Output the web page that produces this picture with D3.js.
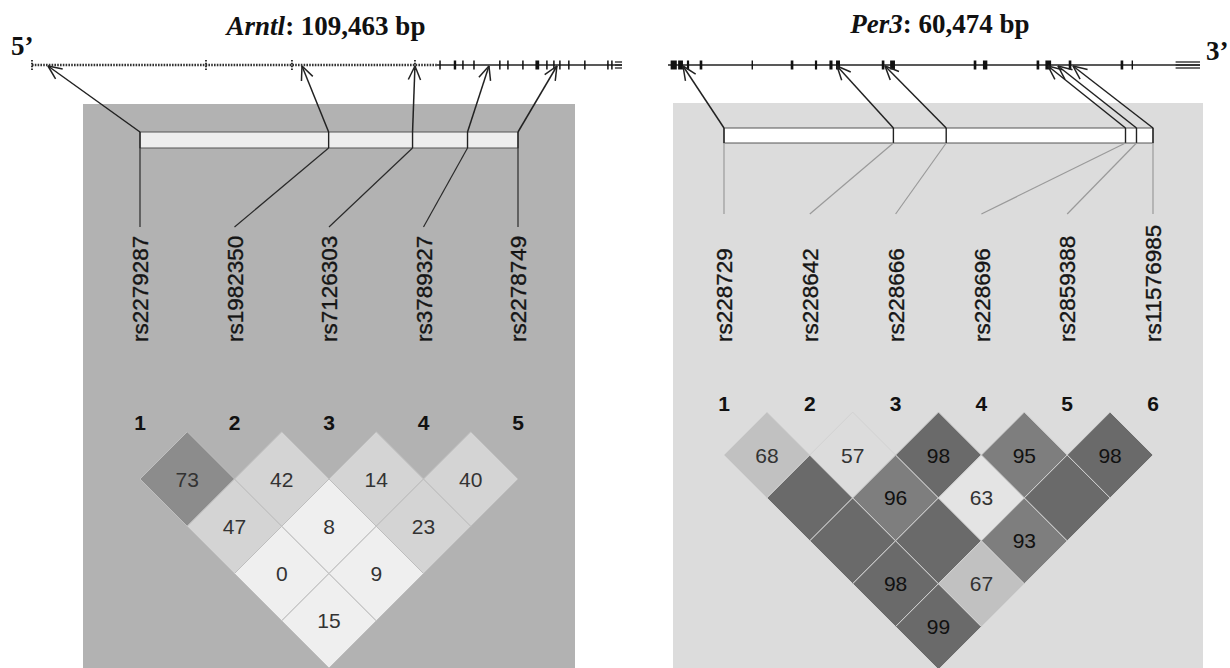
<!DOCTYPE html>
<html>
<head>
<meta charset="utf-8">
<script src="https://cdn.jsdelivr.net/npm/d3@7/dist/d3.min.js"></script>
<style>
  body { margin: 0; background: #fff; }
  svg { display: block; }
  text { font-family: "Liberation Sans", Arial, sans-serif; }
</style>
</head>
<body>
<svg id="chart" width="1230" height="668"></svg>
<script>
// ---- Arntl ----
const arntlName = "Arntl";
const arntlLength = 109463;
const arntlSnps = ["rs2279287", "rs1982350", "rs7126303", "rs3789327", "rs2278749"];
const arntlSnpBp = [2970, 50090, 71050, 84780, 97390];
const arntlDottedEnd = 75130;
const arntlDottedMarks = [0, 32280, 48230, 71050];
const arntlExons = [[75560, 75840], [78250, 78700], [79810, 80090], [81860, 82140], [86660, 86940],
  [88160, 88440], [90940, 91220], [93400, 94100], [95390, 95670], [96690, 96970], [97800, 98080],
  [99460, 99740], [102430, 102710], [106710, 106990], [107450, 107730]];
const arntlUtr = [108150, 109463];
// D' by SNP i, for pairs (i, j > i)
const arntlDprime = [[73, 47, 0, 15], [42, 8, 9], [14, 23], [40]];
// LOD >= 2 ?
const arntlSig = [[1, 1, 0, 0], [1, 0, 0], [1, 1], [1]];

// ---- Per3 ----
const per3Name = "Per3";
const per3Length = 60474;
const per3Snps = ["rs228729", "rs228642", "rs228666", "rs228696", "rs2859388", "rs11576985"];
const per3SnpBp = [1705, 19210, 24667, 43195, 44330, 46036];
const per3Exons = [[300, 1000], [1150, 1700], [2150, 2400], [3600, 3900], [9500, 9620], [13950, 14250], [16700, 16950],
  [18350, 18700], [19100, 19550], [24300, 24600], [25250, 25800], [34750, 35050], [35800, 36300],
  [41900, 42200], [42900, 43550], [45550, 45850], [51450, 51750], [52700, 52820]];
const per3Utr = [57700, 60474];
const per3Dprime = [[68, 100, 100, 98, 99], [57, 96, 100, 67], [98, 63, 93], [95, 100], [98]];
const per3Sig = [[1, 1, 1, 1, 1], [1, 1, 1, 1], [1, 0, 1], [1, 1], [1]];

const svg = d3.select("#chart");

function drawPanel(o) {
  const g = svg.append("g");
  const n = o.snps.length;

  g.append("rect")
    .attr("x", o.panel[0]).attr("y", o.panel[1])
    .attr("width", o.panel[2] - o.panel[0]).attr("height", 668 - o.panel[1])
    .attr("fill", o.bg);

  // title
  const t = g.append("text")
    .attr("x", o.titleX).attr("y", o.titleY)
    .attr("text-anchor", "middle")
    .style("font-family", "'Liberation Serif', 'Times New Roman', serif")
    .style("font-weight", "bold").style("font-size", "27px").attr("fill", "#111");
  t.append("tspan").style("font-style", "italic").text(o.name);
  t.append("tspan").text(": " + d3.format(",")(o.length) + " bp");

  // gene track
  const gx = d3.scaleLinear().domain([0, o.length]).range(o.trackX);
  const ty = o.trackY;
  if (o.dottedEnd) {
    g.append("line").attr("x1", gx(0)).attr("x2", gx(o.dottedEnd)).attr("y1", ty).attr("y2", ty)
      .attr("stroke", "#333").attr("stroke-width", 2.4).attr("stroke-dasharray", "1.6,1.2");
    g.selectAll(".dmark").data(o.dottedMarks).join("line")
      .attr("x1", d => gx(d)).attr("x2", d => gx(d)).attr("y1", ty - 5).attr("y2", ty + 5)
      .attr("stroke", "#222").attr("stroke-width", 1.8).attr("stroke-dasharray", "1.6,1.2");
    g.append("line").attr("x1", gx(o.dottedEnd)).attr("x2", gx(o.length)).attr("y1", ty).attr("y2", ty)
      .attr("stroke", "#222").attr("stroke-width", 1.6);
  } else {
    g.append("line").attr("x1", gx(0)).attr("x2", gx(o.length)).attr("y1", ty).attr("y2", ty)
      .attr("stroke", "#222").attr("stroke-width", 1.6);
  }
  g.selectAll(".exon").data(o.exons).join("rect")
    .attr("x", d => gx(d[0])).attr("width", d => Math.max(1.4, gx(d[1]) - gx(d[0])))
    .attr("y", ty - 4.5).attr("height", 9).attr("fill", "#111");
  // UTR box drawn as stacked lines
  g.selectAll(".utr").data([-3, 0, 3]).join("line")
    .attr("x1", gx(o.utr[0])).attr("x2", gx(o.utr[1]))
    .attr("y1", d => ty + d).attr("y2", d => ty + d)
    .attr("stroke", "#222").attr("stroke-width", 1.3);

  // LD bar
  const bx = d3.scaleLinear().domain(d3.extent(o.snpBp)).range(o.barX);
  const idx = d3.scalePoint().domain(d3.range(n)).range(o.barX);
  g.append("rect")
    .attr("x", o.barX[0]).attr("y", o.barY[0])
    .attr("width", o.barX[1] - o.barX[0]).attr("height", o.barY[1] - o.barY[0])
    .attr("fill", o.barFill).attr("stroke", "#555").attr("stroke-width", 1);
  g.selectAll(".mk").data(o.snpBp).join("line")
    .attr("x1", d => bx(d)).attr("x2", d => bx(d))
    .attr("y1", o.barY[0]).attr("y2", o.barY[1])
    .attr("stroke", "#222").attr("stroke-width", 1.4);

  // arrows to the gene
  o.snpBp.forEach(d => {
    const x0 = bx(d), y0 = o.barY[0], x1 = gx(d), y1 = ty + 1;
    g.append("line").attr("x1", x0).attr("y1", y0).attr("x2", x1).attr("y2", y1)
      .attr("stroke", "#222").attr("stroke-width", 1.5);
    const a = Math.atan2(y0 - y1, x0 - x1);
    [-0.42, 0.42].forEach(s => {
      g.append("line").attr("x1", x1).attr("y1", y1)
        .attr("x2", x1 + 15 * Math.cos(a + s)).attr("y2", y1 + 15 * Math.sin(a + s))
        .attr("stroke", "#222").attr("stroke-width", 1.5);
    });
  });

  // lines to labels
  g.selectAll(".ll").data(o.snpBp).join("line")
    .attr("x1", d => bx(d)).attr("y1", o.barY[1])
    .attr("x2", (d, i) => idx(i)).attr("y2", o.labelLineEnd)
    .attr("stroke", o.lowerLine).attr("stroke-width", 1.2);

  // SNP names
  g.selectAll(".snp").data(o.snps).join("text")
    .attr("transform", (d, i) => `translate(${idx(i)},${o.labelBase}) rotate(-90)`)
    .attr("dy", "0.36em")
    .style("font-size", "22.5px").attr("fill", "#151515")
    .attr("stroke", "#151515").attr("stroke-width", 0.35)
    .text(d => d);

  // SNP index numbers
  g.selectAll(".num").data(d3.range(n)).join("text")
    .attr("x", i => idx(i)).attr("y", o.indexY)
    .attr("text-anchor", "middle")
    .style("font-size", "21px").style("font-weight", "bold").attr("fill", "#111")
    .text(i => i + 1);

  // LD triangle
  const half = idx.step() / 2;
  const cells = [];
  o.dprime.forEach((row, i) => row.forEach((v, k) => {
    const j = i + k + 1;
    cells.push({ i, j, v, sig: o.sig[i][k] });
  }));
  const cg = g.append("g");
  const cell = cg.selectAll("g").data(cells).join("g")
    .attr("transform", d => `translate(${(idx(d.i) + idx(d.j)) / 2},${o.cellY0 + (d.j - d.i - 1) * half})`);
  cell.append("path")
    .attr("d", `M0,${-half}L${half},0L0,${half}L${-half},0Z`)
    .attr("fill", d => d.sig ? o.shade(d.v) : o.lowShade)
    .attr("stroke", o.cellStroke).attr("stroke-width", 1);
  cell.filter(d => d.v < 100).append("text")
    .attr("text-anchor", "middle").attr("dy", "0.36em")
    .style("font-size", "21px")
    .attr("fill", d => d.sig && d.v > 90 ? "#111" : "#333")
    .text(d => d.v);
}

drawPanel({
  name: arntlName, length: arntlLength, snps: arntlSnps, snpBp: arntlSnpBp,
  exons: arntlExons, utr: arntlUtr, dottedEnd: arntlDottedEnd, dottedMarks: arntlDottedMarks,
  dprime: arntlDprime, sig: arntlSig,
  panel: [83, 104, 575], bg: "#b2b2b2", titleX: 326, titleY: 35,
  trackX: [32, 622], trackY: 65, barX: [140, 518], barY: [132, 148], barFill: "#eeeeee",
  labelLineEnd: 227, lowerLine: "#2a2a2a", labelBase: 342, indexY: 430, cellY0: 479,
  shade: d3.scaleThreshold().domain([60]).range(["#d4d4d4", "#8c8c8c"]),
  lowShade: "#efefef", cellStroke: "#bebebe"
});

drawPanel({
  name: per3Name, length: per3Length, snps: per3Snps, snpBp: per3SnpBp,
  exons: per3Exons, utr: per3Utr,
  dprime: per3Dprime, sig: per3Sig,
  panel: [673, 103, 1203], bg: "#dcdcdc", titleX: 940, titleY: 33,
  trackX: [668, 1200], trackY: 65, barX: [724, 1153], barY: [128, 143], barFill: "#ffffff",
  labelLineEnd: 214, lowerLine: "#9a9a9a", labelBase: 342, indexY: 411, cellY0: 455,
  shade: d3.scaleThreshold().domain([60, 90, 97]).range(["#dcdcdc", "#c1c1c1", "#7e7e7e", "#6a6a6a"]),
  lowShade: "#e4e4e4", cellStroke: "#d2d2d2"
});

// strand ends
svg.append("text").attr("x", 11).attr("y", 55)
  .style("font-family", "'Liberation Serif', serif").style("font-weight", "bold").style("font-size", "27px")
  .attr("fill", "#111").text("5’");
svg.append("text").attr("x", 1206).attr("y", 60)
  .style("font-family", "'Liberation Serif', serif").style("font-weight", "bold").style("font-size", "27px")
  .attr("fill", "#111").text("3’");
</script>
</body>
</html>
